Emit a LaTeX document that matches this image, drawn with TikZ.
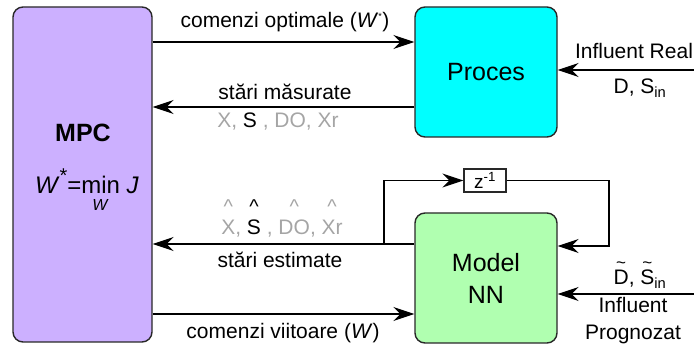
\documentclass[tikz,border=0pt]{standalone}
\usepackage{fontspec}
\setmainfont{Liberation Sans}
\usetikzlibrary{arrows.meta,calc}

\definecolor{mpcfill}{RGB}{204,176,255}
\definecolor{procfill}{RGB}{0,255,255}
\definecolor{nnfill}{RGB}{176,255,176}
\definecolor{boxline}{RGB}{40,40,40}
\definecolor{softgray}{RGB}{165,165,165}

% small caret / tilde placed above a piece of text
\newcommand\caretabove[1]{\ooalign{#1\cr\hidewidth\raisebox{1.02em}{\fontsize{20}{20}\selectfont\textasciicircum}\hidewidth\cr}}
\newcommand\tildeabove[1]{\ooalign{#1\cr\hidewidth\raisebox{0.8em}{\fontsize{17}{17}\selectfont\textasciitilde}\hidewidth\cr}}

\tikzset{
  blockbox/.style={draw=boxline, line width=1.4pt, rounded corners=10pt,
    inner sep=0pt, font=\fontsize{25}{32}\selectfont, align=center},
  flow/.style={line width=1.3pt, -{Stealth[length=21pt,width=14pt,inset=7pt]}},
  wire/.style={line width=1.3pt},
  lbl/.style={font=\fontsize{21}{26}\selectfont, inner sep=0pt, align=center},
}

\begin{document}
\begin{tikzpicture}[x=1pt,y=-1pt]
  \useasboundingbox (0,0) rectangle (694,344);

  % blocks
  \node[blockbox, fill=mpcfill, minimum width=139pt, minimum height=335pt] (mpc) at (82.5,174.5) {};
  \node[blockbox, fill=procfill, minimum width=142pt, minimum height=130pt] (proc) at (486,72) {Proces};
  \node[blockbox, fill=nnfill, minimum width=142pt, minimum height=130pt] (nn) at (486,278) {Model\\NN};
  \node[draw=boxline, line width=1.2pt, minimum width=42pt, minimum height=23pt, inner sep=0pt,
        font=\fontsize{19}{22}\selectfont] (zdel) at (485,180.5) {z\textsuperscript{-1}};

  % text inside the MPC block
  \node[font=\fontsize{25}{30}\selectfont\bfseries, inner sep=0pt] (mpcname) at (83,133) {MPC};
  \node[font=\fontsize{24}{28}\selectfont, inner sep=0pt] (mpclaw) at (87,181)
    {\textit{W}\raisebox{0.45em}{\fontsize{20}{20}\selectfont *}=min \textit{J}};
  \node[font=\fontsize{16}{18}\selectfont\itshape, inner sep=0pt] (mpcsub) at (100,205) {W};

  % helper coordinates
  \coordinate (yopt) at (0,42);
  \coordinate (ymeas) at (0,107);
  \coordinate (est) at (384,244);
  \coordinate (yfut) at (0,314);
  \coordinate (inreal) at (694,70);
  \coordinate (inprog) at (694,294);
  \coordinate (fbright) at (609,180.5);
  \coordinate (fbin) at (609,246);

  % signal paths
  \draw[flow] (mpc.east |- yopt) -- (proc.west |- yopt);
  \draw[flow] (proc.west |- ymeas) -- (mpc.east |- ymeas);
  \draw[flow] (inreal) -- (proc.east |- inreal);
  \draw[flow] (nn.west |- est) -- (mpc.east |- est);
  \draw[flow] (mpc.east |- yfut) -- (nn.west |- yfut);
  \draw[flow] (inprog) -- (nn.east |- inprog);
  \draw[flow] (est) |- (zdel.west);
  \draw[wire] (zdel.east) -- (fbright);
  \draw[flow] (fbright) |- (nn.east |- fbin);

  % path labels
  \node[lbl] (topt) at (285,22) {comenzi optimale (\textit{W}\textsuperscript{\fontsize{9}{9}\selectfont*})};
  \node[lbl] (tmeas) at (285,92) {stări măsurate};
  \node[lbl] (vmeas) at (278,122) {\color{softgray}X, \color{black}S\color{softgray}\ , DO, Xr};
  \node[lbl] (treal) at (634,51) {Influent Real};
  \node[lbl] (vreal) at (640,88) {D, S\textsubscript{in}};
  \node[lbl, anchor=base] (vest) at (282,235) {\color{softgray}\caretabove{X}, \color{black}\caretabove{S}\color{softgray}\ , \caretabove{DO}, \caretabove{Xr}};
  \node[lbl] (test) at (280,260) {stări estimate};
  \node[lbl] (tfut) at (283,333) {comenzi viitoare (\textit{W})};
  \node[lbl, anchor=base] (vprog) at (640,285) {\tildeabove{D}, \tildeabove{S}\textsubscript{in}};
  \node[lbl] (tprog) at (633,321) {Influent\\[1pt]Prognozat};
\end{tikzpicture}
\end{document}
